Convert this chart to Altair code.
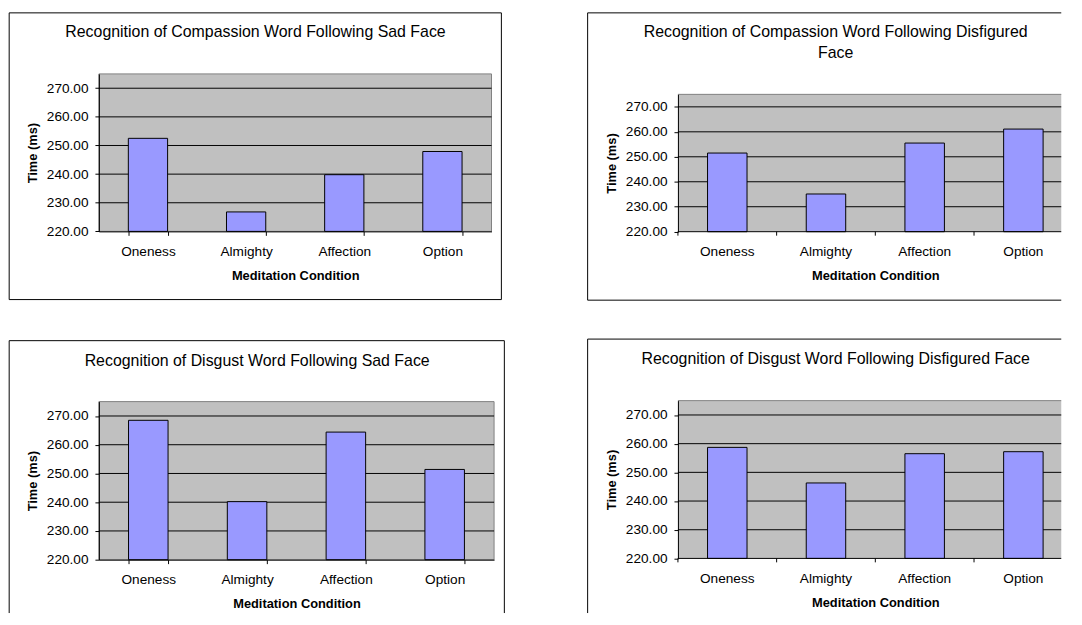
import altair as alt
import pandas as pd

# ---- data ----
categories = ["Oneness", "Almighty", "Affection", "Option"]
panel_titles = [
    "Recognition of Compassion Word Following Sad Face",
    ["Recognition of Compassion Word Following Disfigured", "Face"],
    "Recognition of Disgust Word Following Sad Face",
    "Recognition of Disgust Word Following Disfigured Face",
]
compassion_sad = [252.5, 226.8, 239.8, 247.9]
compassion_disfigured = [251.5, 235.1, 255.5, 261.1]
disgust_sad = [268.5, 240.2, 264.4, 251.4]
disgust_disfigured = [258.7, 246.3, 256.5, 257.2]
y_ticks = [220, 230, 240, 250, 260, 270]
y_domain = [220, 275]
x_title = "Meditation Condition"
y_title = "Time (ms)"

FONT = "Liberation Sans, Arial, sans-serif"
ONE = alt.Data(values=[{"k": 1}])
PLOT_FILL = "#c0c0c0"
PLOT_EDGE = "#808080"
BAR_FILL = "#9999ff"
PAD_INNER, PAD_OUTER = 0.6, 0.3
FULL_RANGE = 399.6   # full plot width of the right-hand charts (cut by the picture edge)


def x_channel(full_range=None, band_position=None):
    scale_kw = dict(paddingInner=PAD_INNER, paddingOuter=PAD_OUTER)
    axis_kw = dict(
        labelAngle=0, tickSize=4, labelPadding=9, zindex=1,
        domainColor="black", tickColor="black", labelColor="black",
        labelFont=FONT, labelFontSize=13.8, labelOverlap=False,
        titleFont=FONT, titleFontSize=13, titleFontWeight="bold",
        titleColor="black", titleY=48.5, titleBaseline="alphabetic",
    )
    if full_range is None:
        axis_kw["tickBand"] = "extent"
    else:
        scale_kw["range"] = [0, full_range]
        axis_kw["domain"] = False
        axis_kw["tickOpacity"] = 0
    kw = {}
    if band_position is not None:
        kw["bandPosition"] = band_position
    return alt.X("condition:N", sort=categories, title=x_title,
                 scale=alt.Scale(**scale_kw), axis=alt.Axis(**axis_kw), **kw)


def y_channel(H, top, field):
    return alt.Y(
        field,
        type="quantitative",
        title=y_title,
        scale=alt.Scale(domain=y_domain, nice=False, zero=False, range=[H, top]),
        axis=alt.Axis(
            values=y_ticks, format=".2f", tickSize=4, labelPadding=7,
            grid=False, zindex=1, labelOverlap=False,
            domainColor="black", tickColor="black", labelColor="black",
            labelFont=FONT, labelFontSize=13.8,
            titleFont=FONT, titleFontSize=13, titleFontWeight="bold",
            titleColor="black", titleX=-63, titleY=(H + top) / 2,
            titleBaseline="alphabetic",
        ),
    )


def panel(title, values, w, H, top, box, title_offset, title_center,
          cut_right=False, cut_bottom=False):
    """w, H: size of the view; the grey plot area spans y from `top` to H."""
    df = pd.DataFrame({"condition": categories, "time": values})
    area = pd.DataFrame({"hi": [y_domain[1]], "lo": [y_domain[0]]})
    grid = pd.DataFrame({"tick": y_ticks[1:]})
    full = FULL_RANGE if cut_right else None
    left, right, btop, bottom = box

    layers = []
    # grey plot area, drawn through the y scale
    layers.append(alt.Chart(area).mark_rect(
        fill=PLOT_FILL, stroke=PLOT_EDGE, strokeWidth=1,
        strokeOpacity=0 if cut_right else 1,
    ).encode(x=alt.value(0), x2=alt.value(w),
             y=y_channel(H, top, "hi"), y2="lo"))
    if cut_right:
        layers.append(alt.Chart(area).mark_rule(color=PLOT_EDGE, strokeWidth=1).encode(
            x=alt.value(0), x2=alt.value(w), y=y_channel(H, top, "hi")))
    # horizontal grid lines behind the bars
    layers.append(alt.Chart(grid).mark_rule(color="black", strokeWidth=1).encode(
        x=alt.value(0), x2=alt.value(w), y=y_channel(H, top, "tick")))

    # the panel's outer border (edges beyond the picture are left out)
    rule = alt.Chart(ONE).mark_rule(color="black", strokeWidth=1)
    x_end = w if cut_right else right
    layers.append(rule.encode(x=alt.value(left), x2=alt.value(x_end), y=alt.value(btop)))
    layers.append(rule.encode(x=alt.value(left), y=alt.value(btop), y2=alt.value(bottom)))
    if not cut_right:
        layers.append(rule.encode(x=alt.value(right), y=alt.value(btop), y2=alt.value(bottom)))
    if not cut_bottom:
        layers.append(rule.encode(x=alt.value(left), x2=alt.value(x_end), y=alt.value(bottom)))

    bars = alt.Chart(df).mark_bar(
        color=BAR_FILL, stroke="black", strokeWidth=1
    ).encode(x=x_channel(full), y=y_channel(H, top, "time"),
             y2=alt.datum(y_domain[0]))
    layers.append(bars)

    if cut_right:
        layers.append(rule.encode(x=alt.value(0), x2=alt.value(w), y=alt.value(H)))
        step = FULL_RANGE / (len(categories) - PAD_INNER + 2 * PAD_OUTER)
        layers.append(alt.Chart(df).mark_rule(
            color="black", strokeWidth=1, xOffset=-PAD_INNER * step / 2
        ).encode(
            x=x_channel(full, band_position=0),
            y=alt.value(H), y2=alt.value(H + 4),
        ))

    return alt.layer(*layers).properties(
        width=w,
        height=H,
        view=alt.ViewBackground(fill="transparent", stroke="transparent"),
        title=alt.TitleParams(
            title, frame="group", anchor="middle", dx=title_center - w / 2,
            offset=title_offset, fontSize=16.1, font=FONT,
            fontWeight="normal", color="black", lineHeight=21,
        ),
    )


RIGHT_W = 388

p1 = panel(panel_titles[0], compassion_sad, 397.4, 159.4, 0,
           (-90.8, 407.4, -61.8, 228.4), -28.3, 158.5)
p3 = panel(panel_titles[2], disgust_sad, 400, 160, 0,
           (-90.8, 410.4, -61.7, 214.0), -29.3, 160.2, cut_bottom=True)
p2 = panel(panel_titles[1], compassion_disfigured, RIGHT_W, 159.7, 20.7,
           (-91.4, None, -61.8, 229.0), -49.1, 159.6, cut_right=True)
p4 = panel(panel_titles[3], disgust_disfigured, RIGHT_W, 159.7, 0,
           (-91.4, None, -62.3, 215.0), -28.9, 159.6, cut_right=True,
           cut_bottom=True)

chart = alt.hconcat(
    alt.vconcat(p1, p3, spacing=38.7),
    alt.vconcat(p2, p4, spacing=36.7),
    spacing=81.1,
).properties(
    padding=0, background="white"
).configure_view(
    fill="transparent", stroke="transparent"
)

chart.save("out.html", embed_options={"renderer": "svg", "actions": False})
